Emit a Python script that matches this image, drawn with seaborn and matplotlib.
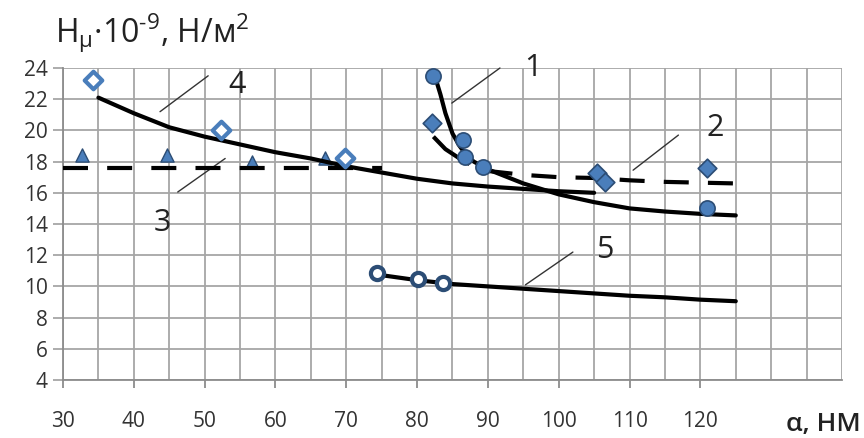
import matplotlib
matplotlib.use("Agg")
import matplotlib.pyplot as plt
import seaborn as sns
import numpy as np

# ---------------- data ----------------
# curve 1 : circles + solid trend
c1_px = [82.3, 86.5, 86.8, 89.3, 121.0]
c1_py = [23.5, 19.4, 18.3, 17.65, 15.0]
c1_lx = [82.5, 83.3, 84.0, 85.0, 86.0, 87.0, 88.0, 90.0, 95.0, 100.0, 105.0, 110.0, 115.0, 120.0, 125.0]
c1_ly = [23.5, 22.3, 21.1, 19.8, 19.0, 18.4, 18.0, 17.5, 16.6, 15.9, 15.4, 15.0, 14.8, 14.65, 14.55]

# curve 2 : diamonds + dashed trend
c2_px = [82.1, 105.4, 106.6, 121.0]
c2_py = [20.5, 17.3, 16.7, 17.6]
c2_lx = [82.3, 84.0, 86.0, 88.0, 90.0, 95.0, 100.0, 105.0, 110.0, 115.0, 120.0, 125.0]
c2_ly = [19.6, 18.8, 18.2, 17.7, 17.4, 17.15, 17.0, 16.95, 16.8, 16.7, 16.65, 16.6]

# curve 3 : triangles + dashed horizontal
c3_px = [32.7, 44.7, 56.7, 67.0]
c3_py = [18.4, 18.4, 18.0, 18.2]
c3_lx = [30.0, 75.0]
c3_ly = [17.6, 17.6]

# curve 4 : hollow diamonds + solid trend
c4_px = [34.3, 52.3, 69.8]
c4_py = [23.2, 20.0, 18.2]
c4_lx = [35.0, 40.0, 45.0, 50.0, 55.0, 60.0, 65.0, 70.0, 75.0, 80.0, 85.0, 90.0, 95.0, 100.0, 105.0]
c4_ly = [22.1, 21.1, 20.2, 19.6, 19.1, 18.6, 18.2, 17.7, 17.3, 16.9, 16.6, 16.4, 16.25, 16.1, 16.0]

# curve 5 : hollow circles + solid trend
c5_px = [74.3, 80.1, 83.7]
c5_py = [10.85, 10.45, 10.2]
c5_lx = [74.5, 80.0, 85.0, 90.0, 95.0, 100.0, 105.0, 110.0, 115.0, 120.0, 125.0]
c5_ly = [10.75, 10.4, 10.15, 10.0, 9.85, 9.7, 9.55, 9.4, 9.3, 9.15, 9.05]

x_ticks = [30, 40, 50, 60, 70, 80, 90, 100, 110, 120]
y_ticks = [4, 6, 8, 10, 12, 14, 16, 18, 20, 22, 24]

# curve labels: text, text position, leader line (start, end)
lab_text = ["1", "2", "3", "4", "5"]
lab_pos = [(96.4, 24.0), (122.1, 20.15), (44.0, 14.05), (54.6, 22.9), (106.5, 12.35)]
lead_x0 = [84.9, 110.5, 46.2, 43.7, 95.3]
lead_y0 = [21.75, 17.45, 16.05, 21.2, 10.1]
lead_x1 = [91.7, 116.9, 52.9, 50.5, 102.0]
lead_y1 = [24.0, 19.7, 18.2, 23.5, 12.2]

# ---------------- style ----------------
sns.set_theme(style="white")
plt.rcParams["font.family"] = ["Open Sans", "DejaVu Sans"]
plt.rcParams["mathtext.fontset"] = "custom"
plt.rcParams["mathtext.rm"] = "Open Sans"
plt.rcParams["mathtext.it"] = "Open Sans:italic"
plt.rcParams["mathtext.default"] = "regular"

fig = plt.figure(figsize=(8.64, 4.38), dpi=100)
ax = fig.add_axes([63 / 864, 1 - 380 / 438, (842 - 63) / 864, (380 - 68) / 438])

blue = "#4A7EBB"
edge = "#2C4D75"
LW = 3.0
dash = (0, (6.0, 4.6))

# lines
sns.lineplot(x=c4_lx, y=c4_ly, ax=ax, color="black", lw=LW, estimator=None, sort=False, zorder=3)
sns.lineplot(x=c1_lx, y=c1_ly, ax=ax, color="black", lw=LW, estimator=None, sort=False, zorder=3)
sns.lineplot(x=c5_lx, y=c5_ly, ax=ax, color="black", lw=LW, estimator=None, sort=False, zorder=3)
sns.lineplot(x=c2_lx, y=c2_ly, ax=ax, color="black", lw=LW, linestyle=(0, (11.0, 4.6, 6.0, 4.6, 6.0, 4.6, 6.0, 4.6, 6.0, 4.6, 6.0, 4.6, 6.0, 4.6)),
             estimator=None, sort=False, zorder=3)
sns.lineplot(x=c3_lx, y=c3_ly, ax=ax, color="black", lw=LW, linestyle=dash, estimator=None, sort=False, zorder=3)

# markers
sns.scatterplot(x=c1_px, y=c1_py, ax=ax, marker="o", s=120, color=blue, edgecolor=edge, linewidth=1.2, zorder=4)
sns.scatterplot(x=c2_px, y=c2_py, ax=ax, marker="D", s=90, color=blue, edgecolor=edge, linewidth=1.2, zorder=4)
sns.scatterplot(x=c3_px, y=c3_py, ax=ax, marker="^", s=90, color=blue, edgecolor=edge, linewidth=1.0, zorder=2)
sns.scatterplot(x=c4_px, y=c4_py, ax=ax, marker="D", s=80, color="white", edgecolor=blue, linewidth=3.0, zorder=4)
sns.scatterplot(x=c5_px, y=c5_py, ax=ax, marker="o", s=90, color="white", edgecolor=edge, linewidth=3.0, zorder=4)

# labels and leaders
for t, (tx, ty), x0, y0, x1, y1 in zip(lab_text, lab_pos, lead_x0, lead_y0, lead_x1, lead_y1):
    ax.plot([x0, x1], [y0, y1], color="#333333", lw=1.0, zorder=2, clip_on=False)
    ax.text(tx, ty, t, fontsize=22, ha="center", va="center", color="#222222", clip_on=False, zorder=5)

# axes
ax.set_xlim(30, 140)
ax.set_ylim(4, 24)
ax.set_xticks(x_ticks)
ax.set_xticks(np.arange(35, 141, 5), minor=True)
ax.set_yticks(y_ticks)
ax.set_xticklabels([str(v) for v in x_ticks])
ax.set_yticklabels([str(v) for v in y_ticks])
ax.grid(True, which="both", color="#A6A6A6", lw=1.3)
ax.set_axisbelow(True)
for s in ["top", "right"]:
    ax.spines[s].set_visible(False)
for s in ["left", "bottom"]:
    ax.spines[s].set_color("#8C8C8C")
    ax.spines[s].set_linewidth(1.3)
ax.tick_params(axis="x", which="major", direction="out", length=6, width=1.3, color="#8C8C8C",
               labelsize=15, pad=16, labelcolor="#333333", bottom=True)
ax.tick_params(axis="x", which="minor", length=0)
ax.tick_params(axis="y", which="major", direction="out", length=7, width=1.3, color="#A6A6A6",
               labelsize=15, pad=4, labelcolor="#333333", left=True)

fig.text(55 / 864, 1 - 43 / 438, "H$_{\u03bc}$\u00b710$^{\u2010 9}$, Н/м$^{2}$", fontsize=23,
         ha="left", va="baseline", color="#222222")
fig.text(861 / 864, 1 - 425 / 438, "α, НМ", fontsize=19, fontweight="semibold", ha="right", va="center",
         color="#222222")

fig.savefig("out.png", dpi=100)
